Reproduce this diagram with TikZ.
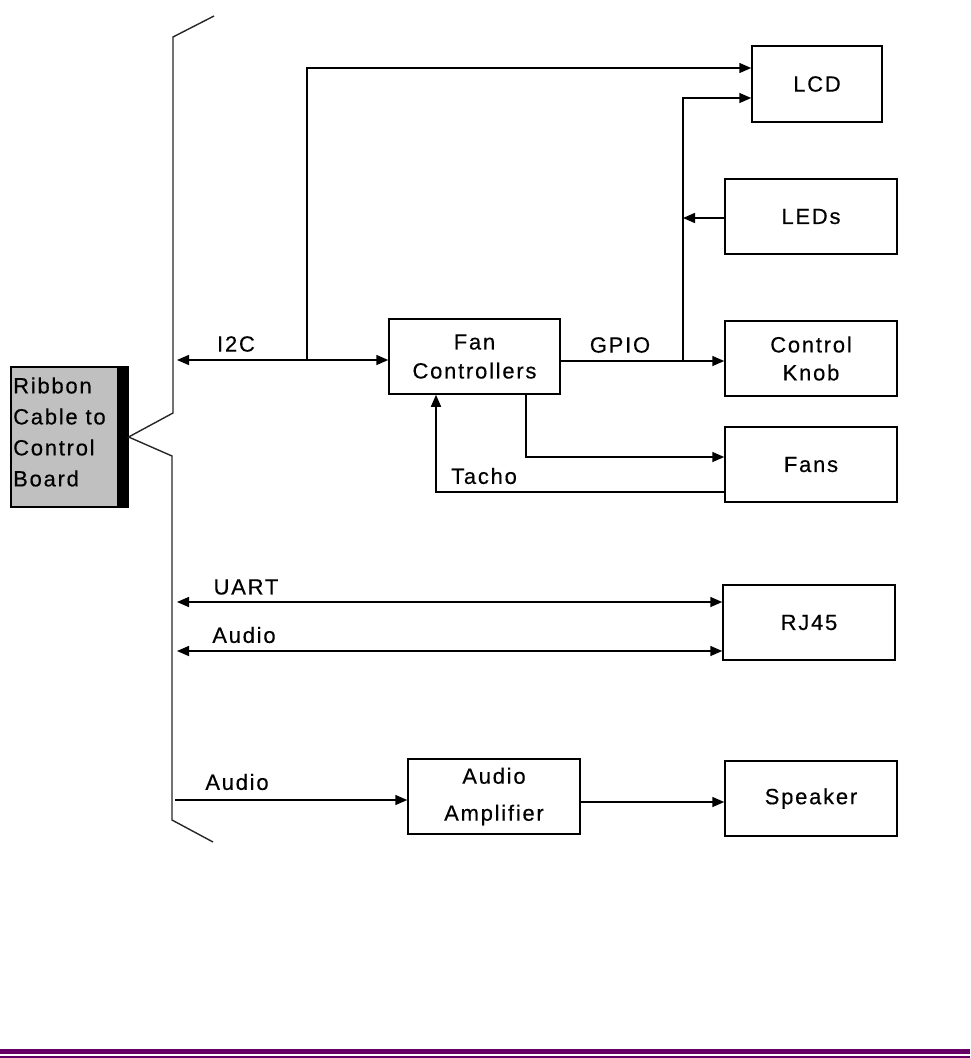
\documentclass[tikz,border=0pt]{standalone}
\usepackage{fontspec}
\setmainfont{Liberation Sans}[LetterSpace=8,FakeBold=0.4]
\usetikzlibrary{arrows.meta}
\definecolor{purp}{HTML}{660066}
\definecolor{ribgray}{HTML}{C0C0C0}
\tikzset{
  blk/.style={draw=black, line width=1.5pt, inner sep=0pt, align=center,
    font=\fontsize{22}{29}\selectfont},
  lbl/.style={inner sep=0pt, font=\fontsize{22}{29}\selectfont},
  con/.style={draw=black, line width=1.5pt},
  arr/.style={con, -{Triangle[length=12pt,width=10pt]}},
  dbl/.style={con, {Triangle[length=12pt,width=10pt]}-{Triangle[length=12pt,width=10pt]}},
  brace/.style={draw=black!85, line width=1.4pt, line join=miter}
}
\begin{document}
\begin{tikzpicture}[x=1pt,y=-1pt]
\useasboundingbox (0,0) rectangle (970,1058);
% ribbon cable box
\node[draw=black, line width=1.2pt, fill=ribgray, minimum width=117pt, minimum height=140pt, inner sep=0pt] (rib) at (69.5,437) {};
\fill[black] (117,367) rectangle (128,507);
\node[lbl, anchor=west, align=left, font=\fontsize{22}{31}\selectfont] (ribtxt) at (13,432) {Ribbon\\Cable to\\Control\\Board};
% brace
\coordinate (bt) at (214,16);
\coordinate (bb) at (213,842);
\draw[brace] (bt) -- (173,37) -- (173,413) -- (rib.east) -- (172,456) -- (172,820) -- (bb);
% blocks
\node[blk, minimum width=130pt, minimum height=76pt] (lcd) at (817,84) {LCD};
\node[blk, minimum width=172pt, minimum height=75pt] (leds) at (811,216.5) {LEDs};
\node[blk, minimum width=172pt, minimum height=75pt, font=\fontsize{22}{28}\selectfont] (knob) at (811,358.5) {Control\\Knob};
\node[blk, minimum width=172pt, minimum height=75pt] (fans) at (811,464.5) {Fans};
\node[blk, minimum width=172pt, minimum height=75pt] (rj) at (809,622.5) {RJ45};
\node[blk, minimum width=172pt, minimum height=75pt] (spk) at (811,798.5) {Speaker};
\node[blk, minimum width=171pt, minimum height=75pt] (fc) at (474.5,356.5) {Fan\\Controllers};
\node[blk, minimum width=172pt, minimum height=75pt, font=\fontsize{22}{37}\selectfont] (amp) at (494,796.5) {Audio\\Amplifier};
% connector end points on the cable side
\coordinate (i2cL) at (177,360);
\coordinate (i2cJ) at (307,360);
\coordinate (gpioJ) at (683,361);
\coordinate (uartL) at (177,602);
\coordinate (audL) at (177,651);
\coordinate (audB) at (175,800);
% I2C
\draw[dbl] (i2cL) -- (i2cL -| fc.west);
\draw[arr] (i2cJ) -- (i2cJ |- 0,68) -- (lcd.west |- 0,68);
% GPIO
\draw[arr] (fc.east |- gpioJ) -- (knob.west |- gpioJ);
\draw[arr] (gpioJ) -- (gpioJ |- 0,98) -- (lcd.west |- 0,98);
\draw[arr] (leds.west |- 0,218) -- (gpioJ |- 0,218);
% fans
\draw[arr] (fc.south -| 526,0) -- (526,457) -- (fans.west |- 0,457);
\draw[arr] (fans.west |- 0,492) -- (436,492) -- (fc.south -| 436,0);
% RJ45
\draw[dbl] (uartL) -- (uartL -| rj.west);
\draw[dbl] (audL) -- (audL -| rj.west);
% audio out
\draw[arr] (audB) -- (audB -| amp.west);
\draw[arr] (amp.east |- 0,802) -- (spk.west |- 0,802);
% labels
\node[lbl] (li2c) at (236,344) {I2C};
\node[lbl] (lgpio) at (620,345) {GPIO};
\node[lbl] (ltacho) at (484,476) {Tacho};
\node[lbl] (luart) at (246,587) {UART};
\node[lbl] (laud1) at (244,635) {Audio};
\node[lbl] (laud2) at (237,782) {Audio};
% bottom bar
\fill[purp] (0,1049) rectangle (970,1054);
\fill[purp] (0,1055.5) rectangle (970,1058);
\end{tikzpicture}
\end{document}
